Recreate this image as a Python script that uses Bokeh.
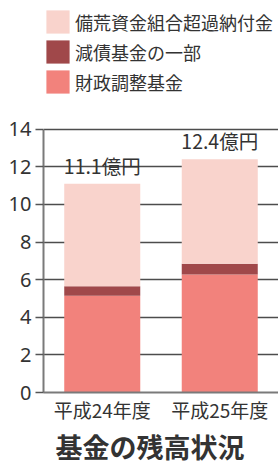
from bokeh.plotting import figure
from bokeh.models import ColumnDataSource, Legend, LegendItem, Title, FixedTicker, Range1d
from bokeh.embed import file_html
from bokeh.resources import INLINE
from bokeh.core.properties import value

# ---- data ----
years = ["平成24年度", "平成25年度"]
zaisei = [5.15, 6.27]          # 財政調整基金
gensai = [0.50, 0.57]          # 減債基金の一部
bikou = [5.45, 5.56]           # 備荒資金組合超過納付金
series_names = ["財政調整基金", "減債基金の一部", "備荒資金組合超過納付金"]
colors = ["#F2827C", "#A0484A", "#F9D3CC"]
y_ticks = [0, 2, 4, 6, 8, 10, 12, 14]
title_text = "基金の残高状況"

totals = [a + b + c for a, b, c in zip(zaisei, gensai, bikou)]
labels = [f"{t:.1f}億円" for t in totals]

JP = "Noto Sans CJK JP"

# layout (pixels)
W, H = 278, 464
BOTTOM, LEFT = 71, 43
AXIS_PX = 264                      # pixel height of the 0..14 axis
frame_h = H - BOTTOM
y_max = y_ticks[-1] * frame_h / AXIS_PX

src = ColumnDataSource(dict(year=years, zaisei=zaisei, gensai=gensai, bikou=bikou,
                            total=totals, label=labels))

p = figure(x_range=years, y_range=Range1d(0, y_max), width=W, height=H,
           output_backend="svg", toolbar_location=None,
           min_border_left=LEFT, min_border_right=0, min_border_top=0,
           min_border_bottom=BOTTOM)
p.outline_line_color = None
p.background_fill_color = "white"
p.x_range.range_padding = 0

rs = p.vbar_stack(["zaisei", "gensai", "bikou"], x="year", width=0.647, source=src,
                  color=colors, line_color=None)

p.text(x="year", y="total", text="label", source=src, text_align="center",
       text_baseline="bottom", y_offset=-4, text_font=value(JP),
       text_font_size="19.5px", text_color="#333333")

# axes
p.yaxis.ticker = FixedTicker(ticks=y_ticks)
p.yaxis.bounds = (y_ticks[0], y_ticks[-1])
p.yaxis.axis_line_color = "#7a7a7a"
p.yaxis.axis_line_width = 2
p.yaxis.major_tick_line_color = "#555555"
p.yaxis.major_tick_line_width = 1.5
p.yaxis.major_tick_out = 8
p.yaxis.major_tick_in = 0
p.yaxis.minor_tick_line_color = None
p.yaxis.major_label_standoff = 4
p.yaxis.major_label_text_font = "Noto Sans"
p.yaxis.major_label_text_font_size = "20px"
p.yaxis.major_label_text_color = "#333333"

p.xaxis.axis_line_color = "#7a7a7a"
p.xaxis.axis_line_width = 2
p.xaxis.major_tick_line_color = None
p.xaxis.major_tick_out = 0
p.xaxis.major_tick_in = 0
p.xaxis.major_label_text_font = JP
p.xaxis.major_label_text_font_size = "19px"
p.xaxis.major_label_text_color = "#333333"
p.xaxis.major_label_standoff = 3

p.xgrid.grid_line_color = None
p.ygrid.grid_line_color = "#4d4d4d"
p.ygrid.grid_line_width = 1.5

t = Title(text=title_text, align="left", offset=12, text_font=JP,
          text_font_size="27px", text_font_style="bold", text_color="#333333",
          standoff=-2)
p.add_layout(t, "below")

items = [LegendItem(label=series_names[i], renderers=[rs[i]]) for i in [2, 1, 0]]
leg = Legend(items=items, location=(0, frame_h - 97), orientation="vertical",
             glyph_width=29, glyph_height=29, spacing=1, label_standoff=3,
             padding=0, margin=0, border_line_color=None,
             background_fill_alpha=0, label_text_font=JP,
             label_text_font_size="18px", label_text_color="#333333",
             label_height=29)
p.add_layout(leg, "center")

open("out.html", "w").write(file_html(p, INLINE))
